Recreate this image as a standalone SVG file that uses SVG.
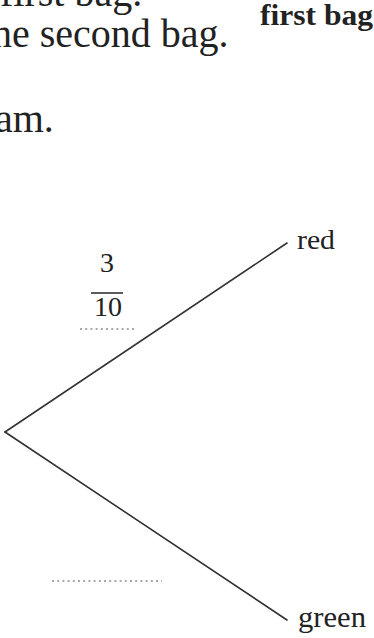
<svg xmlns="http://www.w3.org/2000/svg" width="374" height="638" viewBox="0 0 374 638">
<style>
.t{font-family:"Liberation Serif","Times New Roman",serif;fill:#222}
.b{font-weight:bold}
.br{stroke:#333;stroke-width:1.6;fill:none;stroke-linecap:round}
.dot{stroke:#8a8a96;stroke-width:1.3;stroke-dasharray:2 3.2;fill:none}
</style>
<rect width="374" height="638" fill="#fff"/>
<g id="text-block">
<text class="t" x="0" y="6" font-size="40">first bag.</text>
<text class="t" x="-8" y="47" font-size="40">ne second bag.</text>
<text class="t" x="-5" y="132" font-size="40">am.</text>
<text class="t b" x="260" y="25" font-size="29" textLength="113" lengthAdjust="spacingAndGlyphs">first bag</text>
</g>
<g id="connectors">
<line class="br" x1="5" y1="432" x2="287" y2="243"/>
<line class="br" x1="5" y1="432" x2="287" y2="620"/>
</g>
<g id="node-red"><text class="t" x="297" y="249" font-size="28" textLength="38" lengthAdjust="spacingAndGlyphs">red</text></g>
<g id="node-green"><text class="t" x="298" y="627" font-size="29" textLength="68" lengthAdjust="spacingAndGlyphs">green</text></g>
<g id="label-upper">
<text class="t" x="107" y="272" font-size="28" text-anchor="middle">3</text>
<line x1="91" y1="293" x2="123" y2="293" stroke="#333" stroke-width="1.6"/>
<text class="t" x="108" y="316" font-size="28" text-anchor="middle">10</text>
<line class="dot" x1="80" y1="329" x2="134" y2="329"/>
</g>
<g id="label-lower">
<line class="dot" x1="52" y1="581" x2="162" y2="581"/>
</g>
</svg>
